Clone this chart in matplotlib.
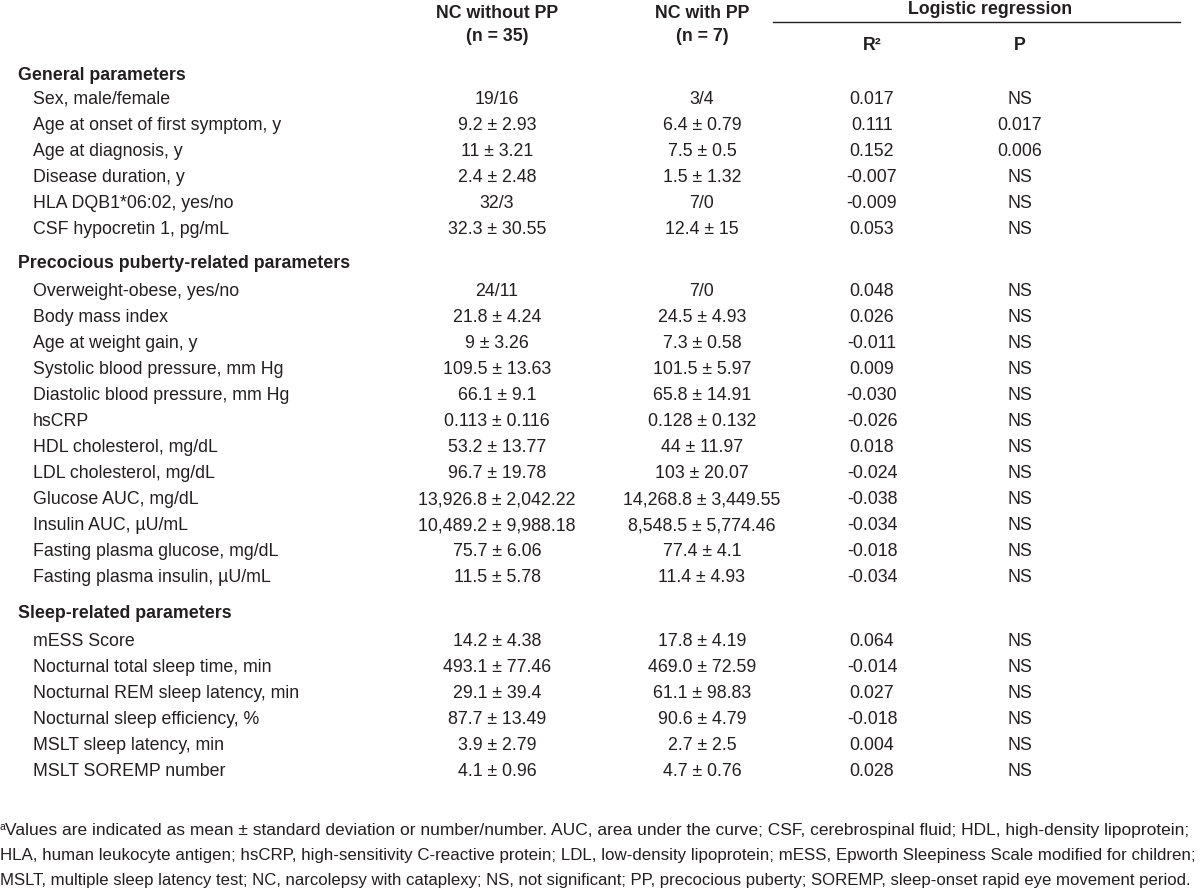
import matplotlib.pyplot as plt
from matplotlib import font_manager

# table content
col_headers = ["NC without PP\n(n = 35)", "NC with PP\n(n = 7)"]
reg_header = "Logistic regression"
sections = ["General parameters",
            "Precocious puberty-related parameters",
            "Sleep-related parameters"]

general_rows = ["Sex, male/female", "Age at onset of first symptom, y", "Age at diagnosis, y",
                "Disease duration, y", "HLA DQB1*06:02, yes/no", "CSF hypocretin 1, pg/mL"]
general_without = ["19/16", "9.2 ± 2.93", "11 ± 3.21", "2.4 ± 2.48", "32/3", "32.3 ± 30.55"]
general_with = ["3/4", "6.4 ± 0.79", "7.5 ± 0.5", "1.5 ± 1.32", "7/0", "12.4 ± 15"]
general_r2 = ["0.017", "0.111", "0.152", "-0.007", "-0.009", "0.053"]
general_p = ["NS", "0.017", "0.006", "NS", "NS", "NS"]

puberty_rows = ["Overweight-obese, yes/no", "Body mass index", "Age at weight gain, y",
                "Systolic blood pressure, mm Hg", "Diastolic blood pressure, mm Hg", "hsCRP",
                "HDL cholesterol, mg/dL", "LDL cholesterol, mg/dL", "Glucose AUC, mg/dL",
                "Insulin AUC, µU/mL", "Fasting plasma glucose, mg/dL",
                "Fasting plasma insulin, µU/mL"]
puberty_without = ["24/11", "21.8 ± 4.24", "9 ± 3.26", "109.5 ± 13.63", "66.1 ± 9.1",
                   "0.113 ± 0.116", "53.2 ± 13.77", "96.7 ± 19.78", "13,926.8 ± 2,042.22",
                   "10,489.2 ± 9,988.18", "75.7 ± 6.06", "11.5 ± 5.78"]
puberty_with = ["7/0", "24.5 ± 4.93", "7.3 ± 0.58", "101.5 ± 5.97", "65.8 ± 14.91",
                "0.128 ± 0.132", "44 ± 11.97", "103 ± 20.07", "14,268.8 ± 3,449.55",
                "8,548.5 ± 5,774.46", "77.4 ± 4.1", "11.4 ± 4.93"]
puberty_r2 = ["0.048", "0.026", "-0.011", "0.009", "-0.030", "-0.026", "0.018", "-0.024",
              "-0.038", "-0.034", "-0.018", "-0.034"]
puberty_p = ["NS"] * 12

sleep_rows = ["mESS Score", "Nocturnal total sleep time, min", "Nocturnal REM sleep latency, min",
              "Nocturnal sleep efficiency, %", "MSLT sleep latency, min", "MSLT SOREMP number"]
sleep_without = ["14.2 ± 4.38", "493.1 ± 77.46", "29.1 ± 39.4", "87.7 ± 13.49",
                 "3.9 ± 2.79", "4.1 ± 0.96"]
sleep_with = ["17.8 ± 4.19", "469.0 ± 72.59", "61.1 ± 98.83", "90.6 ± 4.79",
              "2.7 ± 2.5", "4.7 ± 0.76"]
sleep_r2 = ["0.064", "-0.014", "0.027", "-0.018", "0.004", "0.028"]
sleep_p = ["NS"] * 6

footnote = ["Values are indicated as mean ± standard deviation or number/number. AUC, area under the curve; "
            "CSF, cerebrospinal fluid; HDL, high-density lipoprotein;",
            "HLA, human leukocyte antigen; hsCRP, high-sensitivity C-reactive protein; LDL, low-density "
            "lipoprotein; mESS, Epworth Sleepiness Scale modified for children;",
            "MSLT, multiple sleep latency test; NC, narcolepsy with cataplexy; NS, not significant; "
            "PP, precocious puberty; SOREMP, sleep-onset rapid eye movement period."]

installed = {f.name for f in font_manager.fontManager.ttflist}
fam = [f for f in ['Liberation Sans Narrow', 'Liberation Sans', 'DejaVu Sans'] if f in installed]
plt.rcParams['font.family'] = fam

ink = '#231f20'
fs = 12.8

fig = plt.figure(figsize=(12, 8.96), dpi=100)
ax = fig.add_axes([0, 0, 1, 1])
ax.set_xlim(0, 1200)
ax.set_ylim(896, 0)
ax.axis('off')

col_x = [497, 702, 872, 1020]
label_x = 33
head_x = 18

# header
ax.text(col_x[0], 25, col_headers[0], ha='center', va='center', fontsize=fs,
        fontweight='bold', color=ink, linespacing=1.45)
ax.text(col_x[1], 25, col_headers[1], ha='center', va='center', fontsize=fs,
        fontweight='bold', color=ink, linespacing=1.45)
ax.text(990, 10, reg_header, ha='center', va='center', fontsize=fs, fontweight='bold', color=ink)
ax.plot([773, 1180], [22, 22], color=ink, linewidth=1.0)
ax.text(col_x[2], 46, "R²", ha='center', va='center', fontsize=fs, fontweight='bold', color=ink)
ax.text(col_x[3], 46, "P", ha='center', va='center', fontsize=fs, fontweight='bold', color=ink)

step = 26
title_y = [75, 264, 614]
first_offset = [24, 28, 28]
for name, ty, off, rows, a, b, r2, p in zip(
        sections, title_y, first_offset,
        [general_rows, puberty_rows, sleep_rows],
        [general_without, puberty_without, sleep_without],
        [general_with, puberty_with, sleep_with],
        [general_r2, puberty_r2, sleep_r2],
        [general_p, puberty_p, sleep_p]):
    ax.text(head_x, ty, name, ha='left', va='center', fontsize=fs, fontweight='bold', color=ink)
    for i, row in enumerate(rows):
        y = ty + off + i * step
        ax.text(label_x, y, row, ha='left', va='center', fontsize=fs, color=ink)
        for x, val in zip(col_x, [a[i], b[i], r2[i], p[i]]):
            ax.text(x, y, val, ha='center', va='center', fontsize=fs, color=ink)

# footnote, each line shrunk to fit the page width
renderer = fig.canvas.get_renderer()
ax.text(0, 827, "a", ha='left', va='center', fontsize=7.5, color=ink)
for i, line in enumerate(footnote):
    x = 5 if i == 0 else 0
    t = ax.text(x, 831 + i * 24.5, line, ha='left', va='center', fontsize=fs, color=ink)
    w = t.get_window_extent(renderer).width
    avail = 1186 - x
    if w > avail:
        t.set_fontsize(fs * avail / w)

fig.savefig('out.png', dpi=100, facecolor='white')
